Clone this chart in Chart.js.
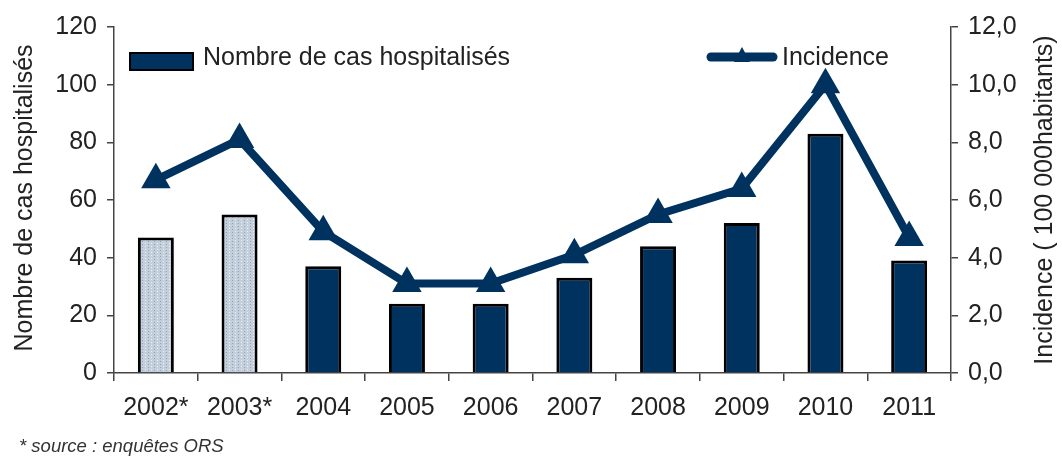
<!DOCTYPE html>
<html>
<head>
<meta charset="utf-8">
<script src="https://cdn.jsdelivr.net/npm/chart.js@4"></script>
<style>
    html, body { margin: 0; padding: 0; background: #fff; }
    #wrap { width: 1062px; height: 459px; position: relative; }
</style>
</head>
<body>
<div id="wrap"><canvas id="chart"></canvas></div>
<script>
// Donnees
const annees = ['2002*', '2003*', '2004', '2005', '2006', '2007', '2008', '2009', '2010', '2011'];
const casHospitalises = [47, 55, 37, 24, 24, 33, 44, 52, 83, 39];
const incidence = [6.7, 8.1, 4.9, 3.1, 3.1, 4.1, 5.5, 6.4, 10.0, 4.7];
const ticksGauche = [0, 20, 40, 60, 80, 100, 120];
const ticksDroite = [0, 2, 4, 6, 8, 10, 12];

const NAVY = '#00325f';
const FONT = "'Liberation Sans', Arial, sans-serif";
const TEXT = '#222';

// Motif pointille pour les barres issues des enquetes
const makePattern = () => {
    const c = document.createElement('canvas');
    c.width = 6; c.height = 6;
    const g = c.getContext('2d');
    g.fillStyle = '#c4cfdc';
    g.fillRect(0, 0, 6, 6);
    g.fillStyle = '#eef2f6';
    g.fillRect(1, 0, 1, 1); g.fillRect(1, 3, 1, 1);
    g.fillStyle = '#8ea2bb';
    g.fillRect(4, 1, 1, 1); g.fillRect(4, 4, 1, 1);
    return g.createPattern(c, 'repeat');
};
const pattern = makePattern();

// Legende, titres d'axes et source dessines a la main
const decor = {
    id: 'decor',
    afterDraw(chart) {
        const ctx = chart.ctx;
        ctx.save();
        ctx.fillStyle = TEXT;
        ctx.font = '25px ' + FONT;
        ctx.textBaseline = 'middle';

        // legende barres
        ctx.fillStyle = NAVY;
        ctx.fillRect(130, 53, 63, 17);
        ctx.strokeStyle = '#000';
        ctx.lineWidth = 2;
        ctx.strokeRect(130, 53, 63, 17);
        ctx.fillStyle = TEXT;
        ctx.textAlign = 'left';
        ctx.fillText('Nombre de cas hospitalisés', 203, 58);

        // legende ligne
        ctx.strokeStyle = NAVY;
        ctx.lineWidth = 9;
        ctx.lineCap = 'round';
        ctx.beginPath();
        ctx.moveTo(711, 57);
        ctx.lineTo(773, 57);
        ctx.stroke();
        ctx.fillStyle = NAVY;
        ctx.beginPath();
        ctx.moveTo(742, 47);
        ctx.lineTo(750, 62);
        ctx.lineTo(734, 62);
        ctx.closePath();
        ctx.fill();
        ctx.fillStyle = TEXT;
        ctx.fillText('Incidence', 782, 58);

        // titres d'axes
        ctx.textAlign = 'center';
        ctx.save();
        ctx.translate(25, 198);
        ctx.rotate(-Math.PI / 2);
        ctx.fillText('Nombre de cas hospitalisés', 0, 0);
        ctx.restore();
        ctx.save();
        ctx.translate(1045, 200);
        ctx.rotate(-Math.PI / 2);
        ctx.fillText('Incidence ( 100 000habitants)', 0, 0);
        ctx.restore();

        // source
        ctx.textAlign = 'left';
        ctx.fillStyle = '#333';
        ctx.font = 'italic 18.5px ' + FONT;
        ctx.fillText('* source : enquêtes ORS', 19, 447);
        ctx.restore();
    }
};

const axisColor = '#444';

new Chart(document.getElementById('chart'), {
    type: 'bar',
    data: {
        labels: annees,
        datasets: [
            {
                type: 'line',
                label: 'Incidence',
                data: incidence,
                yAxisID: 'y1',
                borderColor: NAVY,
                borderWidth: 8,
                backgroundColor: NAVY,
                pointStyle: 'triangle',
                pointRadius: 17,
                pointBorderWidth: 0,
                pointBackgroundColor: NAVY,
                tension: 0,
                order: 0
            },
            {
                type: 'bar',
                label: 'Nombre de cas hospitalisés',
                data: casHospitalises,
                yAxisID: 'y',
                backgroundColor: casHospitalises.map((v, i) => i < 2 ? pattern : NAVY),
                borderColor: '#000',
                borderWidth: 3,
                barPercentage: 0.43,
                categoryPercentage: 1,
                order: 1
            }
        ]
    },
    options: {
        responsive: true,
        maintainAspectRatio: false,
        animation: false,
        layout: { padding: { top: 27, left: 0, right: 0, bottom: 0 } },
        plugins: {
            legend: { display: false },
            tooltip: { enabled: false },
            title: { display: false }
        },
        scales: {
            x: {
                offset: true,
                grid: { offset: true, drawOnChartArea: false, tickLength: 8, color: axisColor, lineWidth: 1.5 },
                border: { color: axisColor, width: 1.5 },
                ticks: { font: { family: FONT, size: 25 }, color: TEXT, padding: 12, maxRotation: 0 },
                afterFit: (s) => { s.height = 86; }
            },
            y: {
                position: 'left',
                min: 0,
                max: 120,
                afterBuildTicks: (s) => { s.ticks = ticksGauche.map(v => ({ value: v })); },
                grid: { drawOnChartArea: false, tickLength: 7, color: axisColor, lineWidth: 1.5 },
                border: { color: axisColor, width: 1.5 },
                ticks: { font: { family: FONT, size: 25 }, color: TEXT, padding: 10 },
                afterFit: (s) => { s.width = 114; }
            },
            y1: {
                position: 'right',
                min: 0,
                max: 12,
                afterBuildTicks: (s) => { s.ticks = ticksDroite.map(v => ({ value: v })); },
                grid: { drawOnChartArea: false, tickLength: 7, color: axisColor, lineWidth: 1.5 },
                border: { color: axisColor, width: 1.5 },
                ticks: {
                    font: { family: FONT, size: 25 },
                    color: TEXT,
                    padding: 10,
                    callback: (v) => v.toFixed(1).replace('.', ',')
                },
                afterFit: (s) => { s.width = 111; }
            }
        }
    },
    plugins: [decor]
});
</script>
</body>
</html>
